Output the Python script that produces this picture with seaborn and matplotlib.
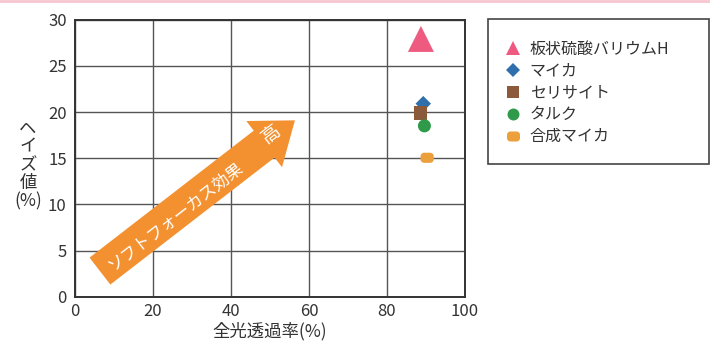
import pandas as pd
import numpy as np
import matplotlib.pyplot as plt
import seaborn as sns
from matplotlib.path import Path
from matplotlib.patches import FancyArrowPatch, Rectangle
from matplotlib.lines import Line2D

# Data
names = ["板状硫酸バリウムH", "マイカ", "セリサイト", "タルク", "合成マイカ"]
transmittance = [88.7, 89.3, 88.5, 89.6, 90.3]
haze = [27.9, 20.9, 19.9, 18.5, 15.05]
x_ticks = [0, 20, 40, 60, 80, 100]
y_ticks = [0, 5, 10, 15, 20, 25, 30]

colors = ["#ef5a80", "#2f6fac", "#8a5a3a", "#2e9a4a", "#eca03c"]


# rounded rectangle marker for 合成マイカ
def rounded_rect(w=1.3, h=1.0, r=0.35, n=8):
    verts = []
    corners = [(w / 2 - r, h / 2 - r, 0), (-w / 2 + r, h / 2 - r, 90),
               (-w / 2 + r, -h / 2 + r, 180), (w / 2 - r, -h / 2 + r, 270)]
    for cx, cy, a0 in corners:
        for t in np.linspace(np.radians(a0), np.radians(a0 + 90), n):
            verts.append((cx + r * np.cos(t), cy + r * np.sin(t)))
    verts.append(verts[0])
    codes = [Path.MOVETO] + [Path.LINETO] * (len(verts) - 2) + [Path.CLOSEPOLY]
    return Path(verts, codes)


stadium = rounded_rect()
markers = ["^", "D", "s", "o", stadium]
plot_sizes = [350, 62, 90, 88, 90]
legend_sizes = [10, 7.6, 8, 8.6, 9.4]

df = pd.DataFrame({"name": names, "x": transmittance, "y": haze})

sns.set_style("white")
plt.rcParams["font.family"] = ["Noto Sans CJK JP", "DejaVu Sans"]
text_color = "#333333"

fig = plt.figure(figsize=(7.1, 3.47), dpi=100)
ax = fig.add_axes([0.1056, 0.1441, 0.5493, 0.7997])

sns.scatterplot(
    data=df, x="x", y="y", hue="name", style="name", size="name",
    palette=dict(zip(names, colors)), markers=dict(zip(names, markers)),
    sizes=dict(zip(names, plot_sizes)), linewidth=0, legend=False,
    ax=ax, zorder=4,
)

ax.set_xlim(0, 100)
ax.set_ylim(0, 30)
ax.set_xticks(x_ticks)
ax.set_yticks(y_ticks)
ax.tick_params(length=0, labelsize=12, colors=text_color)
ax.tick_params(axis="x", pad=4)
ax.tick_params(axis="y", pad=6)
ax.grid(True, color="#555555", linewidth=1.0)
ax.set_axisbelow(True)
for sp in ax.spines.values():
    sp.set_visible(True)
    sp.set_color("#333333")
    sp.set_linewidth(1.4)

ax.set_xlabel("全光透過率(%)", fontsize=12.5, color=text_color, labelpad=2)
ax.set_ylabel("")
fig.text(28 / 710, 1 - 165 / 347, "ヘ\nイ\nズ\n値\n(%)", ha="center",
         va="center", fontsize=12.5, color=text_color, linespacing=1.0)

# soft-focus arrow
arrow = FancyArrowPatch(
    (6.4, 2.8), (56.4, 19.1),
    arrowstyle="simple,head_length=28,head_width=42,tail_width=24.5",
    mutation_scale=1, shrinkA=0, shrinkB=0, color="#f39131", linewidth=0,
    zorder=2,
)
ax.add_patch(arrow)
ax.text(25.9, 8.7, "ソフトフォーカス効果", rotation=37.8, ha="center",
        va="center", rotation_mode="anchor", fontsize=12, color="white",
        zorder=3)
ax.text(50.4, 17.6, "高", rotation=37.8, ha="center", va="center",
        rotation_mode="anchor", fontsize=13.5, color="white", zorder=3)

# legend
handles = [
    Line2D([], [], linestyle="none", marker=m, markersize=s, color=c,
           markeredgewidth=0)
    for m, s, c in zip(markers, legend_sizes, colors)
]
fig.legend(handles, names, loc="upper left",
           bbox_to_anchor=(505 / 710, 1 - 41 / 347), frameon=False,
           fontsize=11.5, handlelength=1.0, handletextpad=0.55,
           borderpad=0, borderaxespad=0, labelspacing=0.3,
           labelcolor=text_color)
fig.patches.append(Rectangle((488 / 710, 1 - 164 / 347), 221 / 710, 145 / 347,
                             transform=fig.transFigure, fill=False,
                             edgecolor="#444444", linewidth=1.2))

# thin pink strip at the top edge
fig.add_artist(Line2D([0, 1], [0.997, 0.997], transform=fig.transFigure,
                      color="#f8c6cf", linewidth=2))

fig.savefig("out.png", dpi=100)
